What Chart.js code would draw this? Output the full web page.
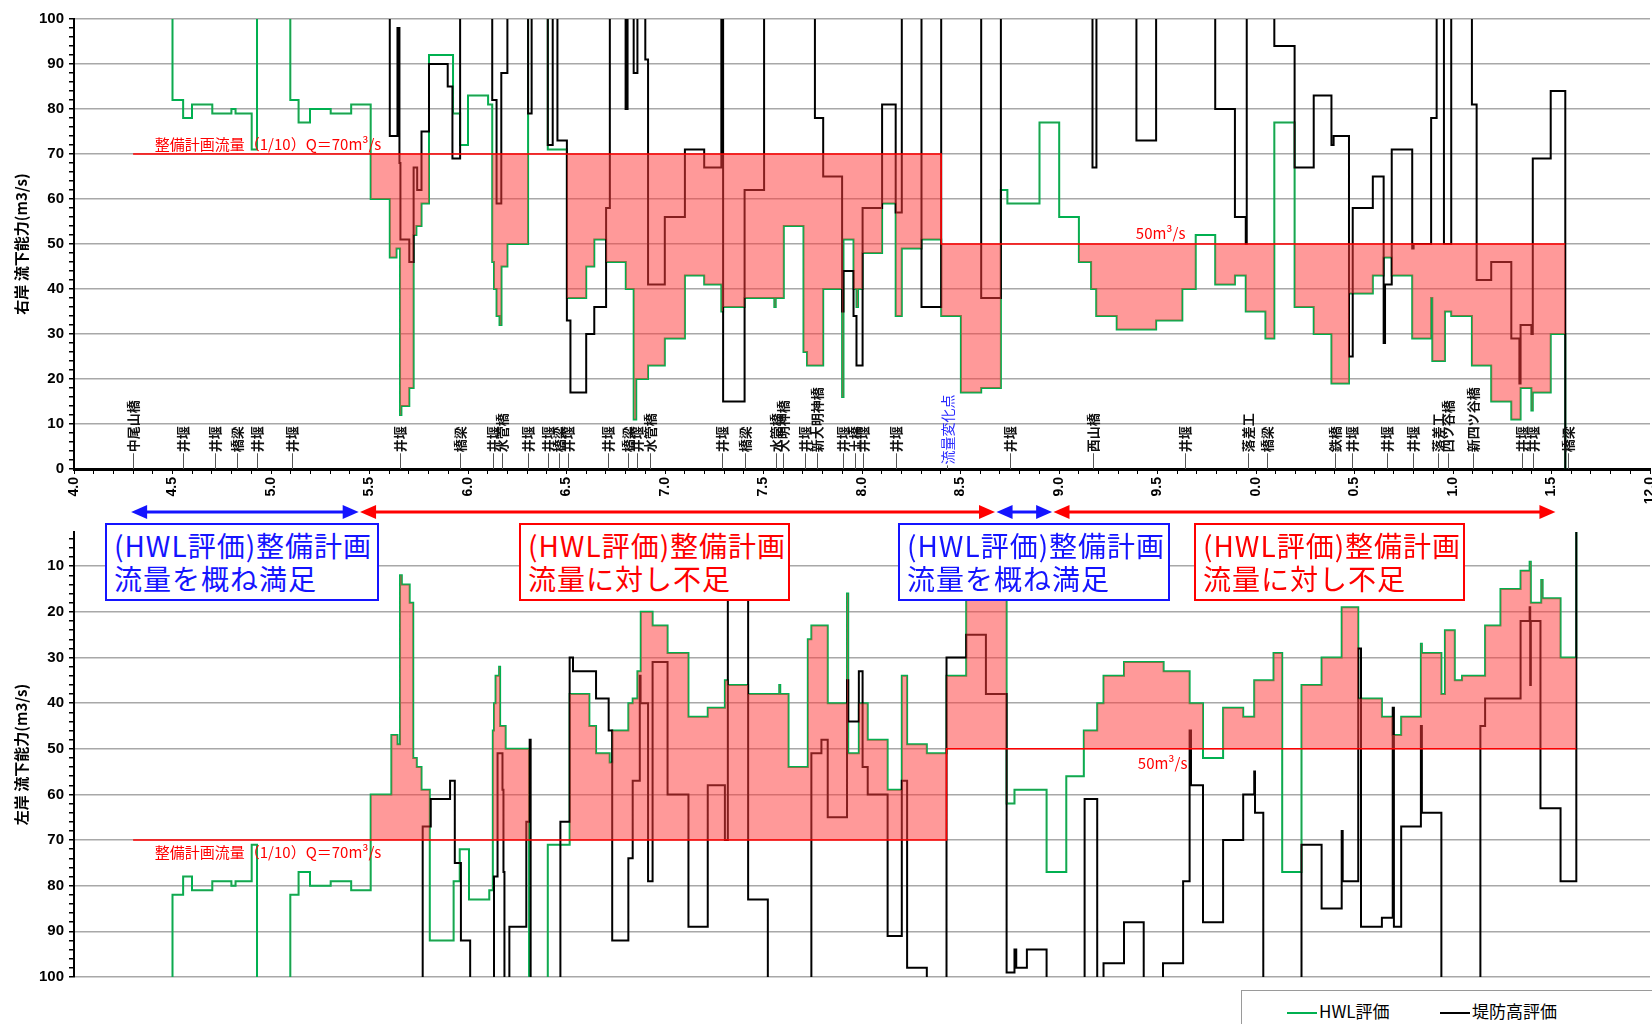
<!DOCTYPE html>
<html lang="ja">
<head>
<meta charset="utf-8">
<title>流下能力図</title>
<script src="https://cdn.jsdelivr.net/npm/chart.js@4.4.1/dist/chart.umd.min.js"></script>
<style>
  html, body { margin: 0; padding: 0; background: #fff; overflow: hidden; }
  #wrap { position: relative; width: 1652px; height: 1024px; overflow: hidden; font-family: "Noto Sans CJK JP", sans-serif; }
  canvas { position: absolute; left: 0; }
  #cTop { top: 0; }
  #cBottom { top: 500px; }
  .note { position: absolute; top: 523px; height: 78px; box-sizing: border-box; background: #fff;
          border: 2px solid; padding: 4px 0 0 7px; font-size: 28px; line-height: 33px; letter-spacing: 1px; white-space: nowrap; }
  .ok { color: #1414ff; border-color: #1414ff; }
  .ng { color: #ff0000; border-color: #ff0000; }
  #legend { position: absolute; left: 1241px; top: 990px; width: 430px; height: 48px; box-sizing: border-box;
            border: 1px solid #9a9a9a; background: #fff; font-size: 17px; color: #000; }
  #legend .item { position: absolute; top: 8px; height: 24px; line-height: 24px; white-space: nowrap; }
  #legend .sw { display: inline-block; width: 30px; height: 0; border-top: 2px solid; vertical-align: middle; margin-right: 2px; }
</style>
</head>
<body>
<div id="wrap">
  <canvas id="cTop" width="1652" height="505"></canvas>
  <canvas id="cBottom" width="1652" height="524"></canvas>
  <div class="note ok" style="left:105px;width:274px;">(HWL評価)整備計画<br>流量を概ね満足</div>
  <div class="note ng" style="left:519px;width:271px;">(HWL評価)整備計画<br>流量に対し不足</div>
  <div class="note ok" style="left:898px;width:272px;">(HWL評価)整備計画<br>流量を概ね満足</div>
  <div class="note ng" style="left:1194px;width:271px;">(HWL評価)整備計画<br>流量に対し不足</div>
  <div id="legend">
    <div class="item" style="left:45px;"><span class="sw" style="border-color:#00b050"></span>HWL評価</div>
    <div class="item" style="left:198px;"><span class="sw" style="border-color:#000"></span>堤防高評価</div>
  </div>
</div>
<script>
// ---- distance axis (km) ----
const xTickLabels = ['4.0','4.5','5.0','5.5','6.0','6.5','7.0','7.5','8.0','8.5','9.0','9.5','0.0','0.5','1.0','1.5','12.0'];

// ---- right bank: HWL evaluation (m3/s), each value holds until the next km ----
const rightHwlKm = [4.5,4.5,4.554,4.599,4.702,4.799,4.82,4.902,4.929,5.098,5.14,5.198,5.303,5.407,5.506,5.603,5.637,5.655,5.662,5.702,5.724,5.738,5.764,5.802,5.924,5.96,6.0,6.102,6.123,6.132,6.145,6.16,6.17,6.2,6.305,6.405,6.502,6.6,6.641,6.701,6.801,6.841,6.854,6.914,6.999,7.101,7.199,7.286,7.295,7.404,7.555,7.562,7.603,7.703,7.721,7.803,7.899,7.906,7.957,7.972,7.98,8.003,8.102,8.171,8.202,8.302,8.402,8.502,8.605,8.705,8.738,8.901,9.001,9.101,9.163,9.189,9.293,9.493,9.626,9.694,9.793,9.893,9.948,10.048,10.093,10.196,10.293,10.383,10.472,10.593,10.648,10.689,10.793,10.889,10.895,10.959,10.991,11.096,11.194,11.296,11.343,11.398,11.405,11.496,11.57];
const rightHwlQ  = [130,82,78,81,79,80,79,71,130,82,77,80,79,81,60,47,49,12,14,18,52,54,59,92,79,72,83,81,46,40,34,32,45,50,130,71,38,45,51,46,40,11,20,23,29,43,41,35,36,38,36,38,54,26,23,40,16,51,40,36,40,48,59,34,49,51,34,17,18,62,59,77,56,46,40,34,31,33,40,52,41,43,35,29,77,36,30,19,39,43,47,43,29,38,24,35,34,23,15,11,18,13,17,30,0];

// ---- right bank: embankment height evaluation ----
const rightBankKm = [5.603,5.603,5.642,5.652,5.657,5.702,5.724,5.742,5.764,5.802,5.897,5.921,5.96,6.123,6.145,6.169,6.2,6.305,6.323,6.405,6.43,6.454,6.502,6.52,6.6,6.641,6.701,6.72,6.8,6.81,6.841,6.86,6.9,6.914,6.999,7.101,7.199,7.286,7.295,7.404,7.503,7.761,7.803,7.899,7.906,7.957,7.972,8.003,8.102,8.171,8.202,8.302,8.402,8.605,8.705,9.17,9.19,9.393,9.493,9.793,9.893,9.948,9.953,10.093,10.196,10.293,10.383,10.394,10.472,10.491,10.593,10.648,10.655,10.689,10.793,10.8,10.889,10.917,10.954,10.991,11.096,11.12,11.194,11.296,11.337,11.343,11.398,11.405,11.496,11.57];
const rightBankQ  = [130,74,98,68,51,46,67,62,75,90,85,69,130,82,59,88,130,79,130,72,130,73,33,17,30,36,58,130,80,130,88,130,91,41,56,71,67,130,15,62,130,78,65,35,44,34,23,58,81,57,130,36,130,38,130,67,130,73,130,80,56,50,130,94,67,83,72,74,25,58,65,28,41,71,49,50,78,130,50,130,81,42,46,29,19,32,30,69,84,0];

// ---- left bank: HWL evaluation ----
const leftHwlKm = [4.5,4.5,4.554,4.599,4.702,4.799,4.82,4.902,4.929,5.098,5.14,5.198,5.303,5.407,5.506,5.611,5.642,5.655,5.664,5.704,5.722,5.74,5.764,5.806,5.927,5.958,6.005,6.108,6.126,6.132,6.14,6.158,6.163,6.191,6.31,6.405,6.516,6.616,6.65,6.719,6.732,6.814,6.836,6.86,6.877,6.937,7.013,7.119,7.217,7.304,7.319,7.422,7.58,7.585,7.627,7.725,7.743,7.826,7.924,7.93,7.984,8.029,8.13,8.202,8.229,8.329,8.429,8.529,8.634,8.734,8.774,8.937,9.037,9.126,9.194,9.226,9.33,9.531,9.663,9.731,9.833,9.935,9.991,10.089,10.133,10.231,10.333,10.435,10.519,10.639,10.694,10.737,10.837,10.842,10.941,10.959,11.009,11.046,11.163,11.241,11.343,11.389,11.395,11.448,11.455,11.546,11.626];
const leftHwlQ  = [130,82,78,81,79,80,79,71,130,82,77,80,79,81,60,47,49,12,14,18,52,54,59,92,79,72,83,81,46,40,34,32,45,50,130,71,38,45,51,53,46,40,39,33,20,23,29,43,41,35,36,38,36,38,54,26,23,40,16,51,40,48,59,34,49,51,34,16,17,62,59,77,56,46,40,34,31,33,40,52,41,43,35,29,77,36,30,19,39,43,47,43,27,29,38,24,35,34,23,15,11,9,18,13,17,30,0];

// ---- left bank: embankment height evaluation ----
const leftBankKm = [5.77,5.77,5.811,5.909,5.933,5.964,6.011,6.132,6.15,6.175,6.18,6.185,6.21,6.296,6.313,6.318,6.469,6.516,6.533,6.65,6.714,6.732,6.814,6.836,6.872,6.876,6.914,6.937,7.013,7.119,7.217,7.304,7.319,7.422,7.522,7.743,7.794,7.826,7.924,7.93,7.984,8.003,8.029,8.13,8.202,8.229,8.329,8.429,8.529,8.629,8.734,8.774,8.783,8.837,8.937,9.13,9.194,9.226,9.33,9.43,9.528,9.63,9.663,9.67,9.731,9.833,9.935,9.991,9.995,10.037,10.231,10.333,10.435,10.44,10.519,10.533,10.639,10.694,10.7,10.737,10.837,10.842,10.941,11.139,11.163,11.343,11.389,11.392,11.395,11.444,11.546,11.626];
const leftBankQ  = [130,67,61,57,75,92,130,78,51,59,77,130,89,66,48,130,66,30,33,39,46,92,74,57,34,40,79,31,60,89,58,70,10,83,130,51,48,65,35,44,33,54,60,91,57,98,130,30,25,38,99,94,98,94,130,61,130,97,88,130,97,79,46,58,88,70,60,55,64,130,71,85,68,79,28,89,87,41,89,67,45,64,130,45,39,22,19,36,22,63,79,0];

// ---- design discharge (1/10): 70 m3/s upstream of the flow change point, 50 m3/s beyond ----
const rightPlanKm = [4.3, 8.402, 11.57];
const rightPlanQ  = [70, 50, 50];
const leftPlanKm  = [4.3, 8.429, 11.626];
const leftPlanQ   = [70, 50, 50];

// ---- structures along the river ----
const landmarkKm = [4.301,4.555,4.716,4.826,4.930,5.105,5.655,5.959,6.128,6.171,6.306,6.408,6.462,6.509,6.712,6.814,6.856,6.924,7.288,7.406,7.563,7.599,7.711,7.770,7.905,7.964,8.007,8.172,8.430,8.751,9.171,9.640,9.961,10.057,10.401,10.486,10.664,10.798,10.925,10.976,11.103,11.349,11.408,11.585];
const landmarkName = ['中尾山橋','井堰','井堰','橋梁','井堰','井堰','井堰','橋梁','井堰','水管橋','井堰','井堰','橋梁','井堰','井堰','橋梁','井堰','水管橋','井堰','橋梁','水管橋','大明神橋','井堰','新大明神橋','井堰','土橋','井堰','井堰','流量変化点','井堰','西山橋','井堰','落差工','橋梁','鉄橋','井堰','井堰','井堰','落差工','四ツ谷橋','新四ツ谷橋','井堰','井堰','橋梁'];

// ---- evaluation ranges shown by the arrows ----
const rangeStartKm = [4.29, 5.452, 8.683, 8.972];
const rangeEndKm   = [5.445, 8.675, 8.965, 11.52];
const rangeOk      = [true, false, true, false];

const GREEN = '#00b050';
const FILL = 'rgba(255,60,60,0.52)';
const JP = '"Noto Sans CJK JP", sans-serif';
const NUM = '"Liberation Sans", Arial, sans-serif';

Chart.defaults.font.family = NUM;
Chart.defaults.color = '#000';

const pts = (km, q) => km.map((x, i) => ({ x, y: q[i] }));

// 'before': horizontal at the current value up to the next km, then vertical
function stepLine(label, km, q, color, order) {
  return { label, data: pts(km, q), borderColor: color, borderWidth: 2, pointRadius: 0,
           stepped: 'before', fill: false, order, tension: 0 };
}
function planLine(km, q, side) {
  const none = 'rgba(0,0,0,0)';
  return { label: '整備計画流量', data: pts(km, q), borderColor: '#ff0000', borderWidth: 1.5, pointRadius: 0,
           stepped: 'before', order: 0,
           fill: { target: 0, above: side === 'above' ? FILL : none, below: side === 'below' ? FILL : none } };
}

function yAxis(title, reverse, min, first) {
  return {
    type: 'linear', min, max: 100, reverse,
    afterBuildTicks(s) { const t = []; for (let v = first; v <= 100; v += 2) t.push({ value: v }); s.ticks = t; },
    afterFit(s) { s.width = 74; },
    ticks: { autoSkip: false, font: { size: 15, weight: 'bold' }, color: '#000', padding: 5,
             callback: v => (v % 10 === 0 ? String(v) : '') },
    grid: { color: c => (c.tick && c.tick.value % 10 === 0 ? '#a8a8a8' : 'rgba(0,0,0,0)'),
            lineWidth: 1.5, tickColor: '#000', tickLength: 5 },
    border: { color: '#000', width: 2 },
    title: { display: true, text: title, font: { family: JP, size: 15, weight: 'bold' }, color: '#000',
             padding: { top: 12, bottom: 0 } }
  };
}

// labels written along the design discharge line
function planTextPlugin(items) {
  return {
    id: 'planText',
    afterDatasetsDraw(chart) {
      const { ctx, scales: { x, y } } = chart;
      ctx.save();
      ctx.fillStyle = '#ff0000';
      ctx.font = '15px ' + JP;
      ctx.textAlign = 'left';
      items.forEach(it => {
        ctx.textBaseline = it.base;
        ctx.fillText(it.text, x.getPixelForValue(it.km), y.getPixelForValue(it.q) + it.dy);
      });
      ctx.restore();
    }
  };
}

const landmarkPlugin = {
  id: 'landmarks',
  afterDatasetsDraw(chart) {
    const { ctx, scales: { x, y } } = chart;
    const y0 = y.getPixelForValue(0);
    ctx.save();
    landmarkKm.forEach((km, i) => {
      const name = landmarkName[i];
      const flow = name === '流量変化点';
      const px = Math.round(x.getPixelForValue(km)) + 0.5;
      const yb = y.getPixelForValue(flow ? 0.8 : 3.5);
      ctx.strokeStyle = '#555';
      ctx.lineWidth = 1;
      ctx.beginPath(); ctx.moveTo(px, y0); ctx.lineTo(px, yb); ctx.stroke();
      ctx.save();
      ctx.translate(px, yb - 1);
      ctx.rotate(-Math.PI / 2);
      ctx.font = (flow ? '14px ' : 'bold 13px ') + JP;
      ctx.fillStyle = flow ? '#2a2aff' : '#111';
      ctx.textAlign = 'left';
      ctx.textBaseline = 'middle';
      ctx.fillText(name, 0, 0);
      ctx.restore();
    });
    ctx.restore();
  }
};

// evaluation range arrows above the left bank panel
const rangePlugin = {
  id: 'ranges',
  afterDraw(chart) {
    const { ctx, scales: { x } } = chart;
    const yy = 12, head = 16, half = 7;
    ctx.save();
    rangeStartKm.forEach((s, i) => {
      const a = x.getPixelForValue(s), b = x.getPixelForValue(rangeEndKm[i]);
      const col = rangeOk[i] ? '#1414ff' : '#ff0000';
      ctx.strokeStyle = col; ctx.fillStyle = col; ctx.lineWidth = 3;
      ctx.beginPath(); ctx.moveTo(a + head - 2, yy); ctx.lineTo(b - head + 2, yy); ctx.stroke();
      ctx.beginPath(); ctx.moveTo(a, yy); ctx.lineTo(a + head, yy - half); ctx.lineTo(a + head, yy + half); ctx.closePath(); ctx.fill();
      ctx.beginPath(); ctx.moveTo(b, yy); ctx.lineTo(b - head, yy - half); ctx.lineTo(b - head, yy + half); ctx.closePath(); ctx.fill();
    });
    ctx.restore();
  }
};

const xAxisTop = {
  type: 'linear', min: 4, max: 12,
  afterBuildTicks(s) { const t = []; for (let k = 40; k <= 120; k++) t.push({ value: k / 10 }); s.ticks = t; },
  afterFit(s) { s.height = 36; s.paddingLeft = 0; s.paddingRight = 0; },
  ticks: { autoSkip: false, minRotation: 90, maxRotation: 90, padding: 3,
           font: { size: 14, weight: 'bold' }, color: '#000',
           callback: v => { const i = Math.round((v - 4) / 0.5); return Math.abs(v - (4 + i * 0.5)) < 1e-6 ? xTickLabels[i] : ''; } },
  grid: { drawOnChartArea: false, color: '#000', tickLength: 5, lineWidth: 1 },
  border: { color: '#000', width: 3 }
};

const common = {
  responsive: false, animation: false, devicePixelRatio: 1, events: [],
  plugins: { legend: { display: false }, tooltip: { enabled: false } }
};

const topChart = new Chart(document.getElementById('cTop'), {
  type: 'line',
  data: { datasets: [
    stepLine('HWL評価', rightHwlKm, rightHwlQ, GREEN, 2),
    stepLine('堤防高評価', rightBankKm, rightBankQ, '#000', 1),
    planLine(rightPlanKm, rightPlanQ, 'above')
  ] },
  options: Object.assign({}, common, {
    layout: { padding: { top: 19, left: 0, right: 2, bottom: 0 } },
    scales: { x: xAxisTop, y: yAxis('右岸 流下能力(m3/s)', false, 0, 0) }
  }),
  plugins: [landmarkPlugin, planTextPlugin([
    { text: '整備計画流量（1/10）Q＝70m³/s', km: 4.41, q: 70, dy: -4, base: 'alphabetic' },
    { text: '50m³/s', km: 9.39, q: 50, dy: -5, base: 'alphabetic' }
  ])]
});

const bottomChart = new Chart(document.getElementById('cBottom'), {
  type: 'line',
  data: { datasets: [
    stepLine('HWL評価', leftHwlKm, leftHwlQ, GREEN, 2),
    stepLine('堤防高評価', leftBankKm, leftBankQ, '#000', 1),
    planLine(leftPlanKm, leftPlanQ, 'below')
  ] },
  options: Object.assign({}, common, {
    layout: { padding: { top: 32, left: 0, right: 2, bottom: 47 } },
    scales: {
      x: { type: 'linear', min: 4, max: 12, display: false },
      y: yAxis('左岸 流下能力(m3/s)', true, 2.5, 4)
    }
  }),
  plugins: [rangePlugin, planTextPlugin([
    { text: '整備計画流量（1/10）Q＝70m³/s', km: 4.41, q: 70, dy: 5, base: 'top' },
    { text: '50m³/s', km: 9.40, q: 50, dy: 7, base: 'top' }
  ])]
});
</script>
</body>
</html>
